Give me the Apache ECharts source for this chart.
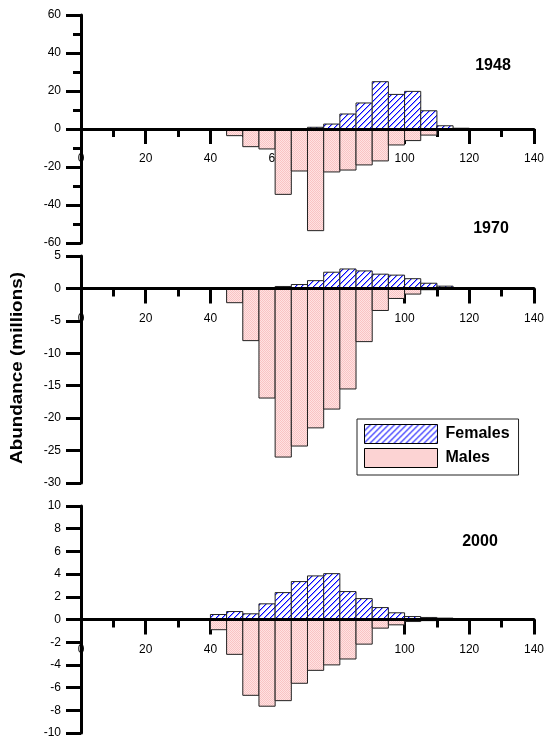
<!DOCTYPE html>
<html>
<head>
<meta charset="utf-8">
<script src="https://cdn.jsdelivr.net/npm/echarts@6/dist/echarts.min.js"></script>
<style>html,body{margin:0;padding:0;background:#fff}#c{width:547px;height:740px}</style>
</head>
<body>
<div id="c"></div>
<script>
// ---- data ----
const binStarts = [40,45,50,55,60,65,70,75,80,85,90,95,100,105,110,115,120];
const binWidth = 5;
const years = ['1948','1970','2000'];
const females1948 = [0,0,0,0,0,0,0.9,2.6,7.9,13.7,24.9,18.2,19.8,9.6,1.7,0.4,0.2];
const males1948   = [0,-3.5,-9.3,-10.5,-34.4,-22.1,-53.5,-22.6,-21.6,-18.9,-16.8,-8.4,-6.1,-3.2,0,0,0];
const females1970 = [0,0,0,0,0.3,0.6,1.2,2.5,3.0,2.7,2.2,2.05,1.5,0.8,0.35,0.1,0];
const males1970   = [0,-2.2,-8.05,-16.9,-26,-24.3,-21.5,-18.6,-15.5,-8.2,-3.4,-1.55,-0.87,-0.2,0,0,0];
const females2000 = [0.44,0.7,0.5,1.38,2.37,3.34,3.84,4.04,2.46,1.84,1.05,0.59,0.26,0.18,0.12,0,0];
const males2000   = [-0.9,-3.07,-6.68,-7.64,-7.15,-5.62,-4.48,-4.0,-3.48,-2.17,-0.76,-0.47,-0.18,-0.1,0,0,0];
const xTicks = {min:0, max:140, interval:20};
const yRanges = [
  {min:-60, max:60, interval:20, minor:true},
  {min:-30, max:5, interval:5, minor:false},
  {min:-10, max:10, interval:2, minor:false}
];
const femalesByPanel = [females1948, females1970, females2000];
const malesByPanel = [males1948, males1970, males2000];

// ---- fill patterns ----
function hatchPattern(){
  const s = 6, c = document.createElement('canvas');
  c.width = s; c.height = s;
  const g = c.getContext('2d');
  g.fillStyle = '#ffffff'; g.fillRect(0,0,s,s);
  g.fillStyle = '#0000ff';
  for (let i = 0; i < s; i++) g.fillRect(i, s-1-i, 1, 1);
  g.fillStyle = '#9a9aff';
  for (let i = 0; i < s; i++) g.fillRect(i, (s-i) % s, 1, 1);
  return {image: c, repeat: 'repeat'};
}
function dotPattern(){
  const c = document.createElement('canvas');
  c.width = 2; c.height = 2;
  const g = c.getContext('2d');
  g.fillStyle = '#ffe2e2'; g.fillRect(0,0,2,2);
  g.fillStyle = '#f9c4c4'; g.fillRect(0,0,1,1); g.fillRect(1,1,1,1);
  return {image: c, repeat: 'repeat'};
}
const femaleFill = hatchPattern();
const maleFill = dotPattern();

const FONT = '"Liberation Sans", Arial, sans-serif';
const grids = [
  {left:81, width:455, top:15, height:228},
  {left:81, width:455, top:256, height:227},
  {left:81, width:455, top:506, height:227}
];

function makeRender(fill){
  return function(params, api){
    const x0 = api.value(0), v = api.value(1);
    if (!v) return null;
    const p0 = api.coord([x0, 0]);
    const p1 = api.coord([x0 + binWidth, v]);
    return {
      type:'rect',
      shape:{x:p0[0], y:Math.min(p0[1],p1[1]), width:p1[0]-p0[0], height:Math.abs(p1[1]-p0[1])},
      style:{fill: fill, stroke:'#222', lineWidth:1}
    };
  };
}

const xAxes = [], yAxes = [], series = [];
grids.forEach((g, i) => {
  const r = yRanges[i];
  // place the x axis on the y=0 level of this panel
  const zeroOffset = -g.height * (0 - r.min) / (r.max - r.min);
  xAxes.push({
    type:'value', gridIndex:i, min:xTicks.min, max:xTicks.max, interval:xTicks.interval,
    position:'bottom', offset: zeroOffset, z:0,
    axisLine:{show:true, onZero:false, lineStyle:{color:'#000', width:3}},
    axisTick:{show:true, length:15, lineStyle:{color:'#000', width:3}},
    minorTick:{show:true, splitNumber:2, length:8, lineStyle:{color:'#000', width:3}},
    axisLabel:{show:true, margin:24, fontSize:12, color:'#000', fontFamily:FONT},
    splitLine:{show:false}
  });
  yAxes.push({
    type:'value', gridIndex:i, min:r.min, max:r.max, interval:r.interval,
    axisLine:{show:true, onZero:false, lineStyle:{color:'#000', width:3}},
    axisTick:{show:true, length:15, lineStyle:{color:'#000', width:3}},
    minorTick:{show:r.minor, splitNumber:2, length:8, lineStyle:{color:'#000', width:3}},
    axisLabel:{margin:20, fontSize:12, color:'#000', fontFamily:FONT},
    splitLine:{show:false}
  });
  series.push({
    type:'custom', name:'Males', xAxisIndex:i, yAxisIndex:i, z:2,
    renderItem: makeRender(maleFill),
    itemStyle:{color:maleFill, borderColor:'#222', borderWidth:1},
    encode:{x:0, y:1},
    data: binStarts.map((b, k) => [b, malesByPanel[i][k]])
  });
  series.push({
    type:'custom', name:'Females', xAxisIndex:i, yAxisIndex:i, z:3,
    renderItem: makeRender(femaleFill),
    itemStyle:{color:femaleFill, borderColor:'#222', borderWidth:1},
    encode:{x:0, y:1},
    data: binStarts.map((b, k) => [b, femalesByPanel[i][k]]),
    markLine:{
      silent:true, symbol:'none', animation:false,
      label:{show:false},
      lineStyle:{color:'#000', width:3, type:'solid'},
      emphasis:{disabled:true},
      data:[{yAxis:0}]
    }
  });
});

const chart = echarts.init(document.getElementById('c'), null, {renderer:'canvas'});
chart.setOption({
  animation:false,
  backgroundColor:'#fff',
  grid: grids,
  xAxis: xAxes,
  yAxis: yAxes,
  series: series,
  legend:{
    data:['Females','Males'],
    orient:'vertical', left:357, top:419,
    icon:'rect', itemWidth:73, itemHeight:19, itemGap:4,
    padding:[5, 9, 7, 7],
    borderColor:'#222', borderWidth:1, backgroundColor:'#fff',
    itemStyle:{borderColor:'#000', borderWidth:1},
    textStyle:{fontSize:16, fontWeight:'bold', color:'#000', fontFamily:FONT, padding:[0,0,0,3]},
    selectedMode:false
  },
  graphic:[
    {type:'text', x:493, y:66, style:{text:years[0], font:'bold 16px '+FONT, fill:'#000', align:'center', verticalAlign:'middle'}},
    {type:'text', x:491, y:229, style:{text:years[1], font:'bold 16px '+FONT, fill:'#000', align:'center', verticalAlign:'middle'}},
    {type:'text', x:480, y:542, style:{text:years[2], font:'bold 16px '+FONT, fill:'#000', align:'center', verticalAlign:'middle'}},
    {type:'text', x:18, y:368, rotation:Math.PI/2, scaleX:1.18,
     style:{text:'Abundance (millions)', font:'bold 16px '+FONT, fill:'#000', align:'center', verticalAlign:'middle'}}
  ]
});
</script>
</body>
</html>
